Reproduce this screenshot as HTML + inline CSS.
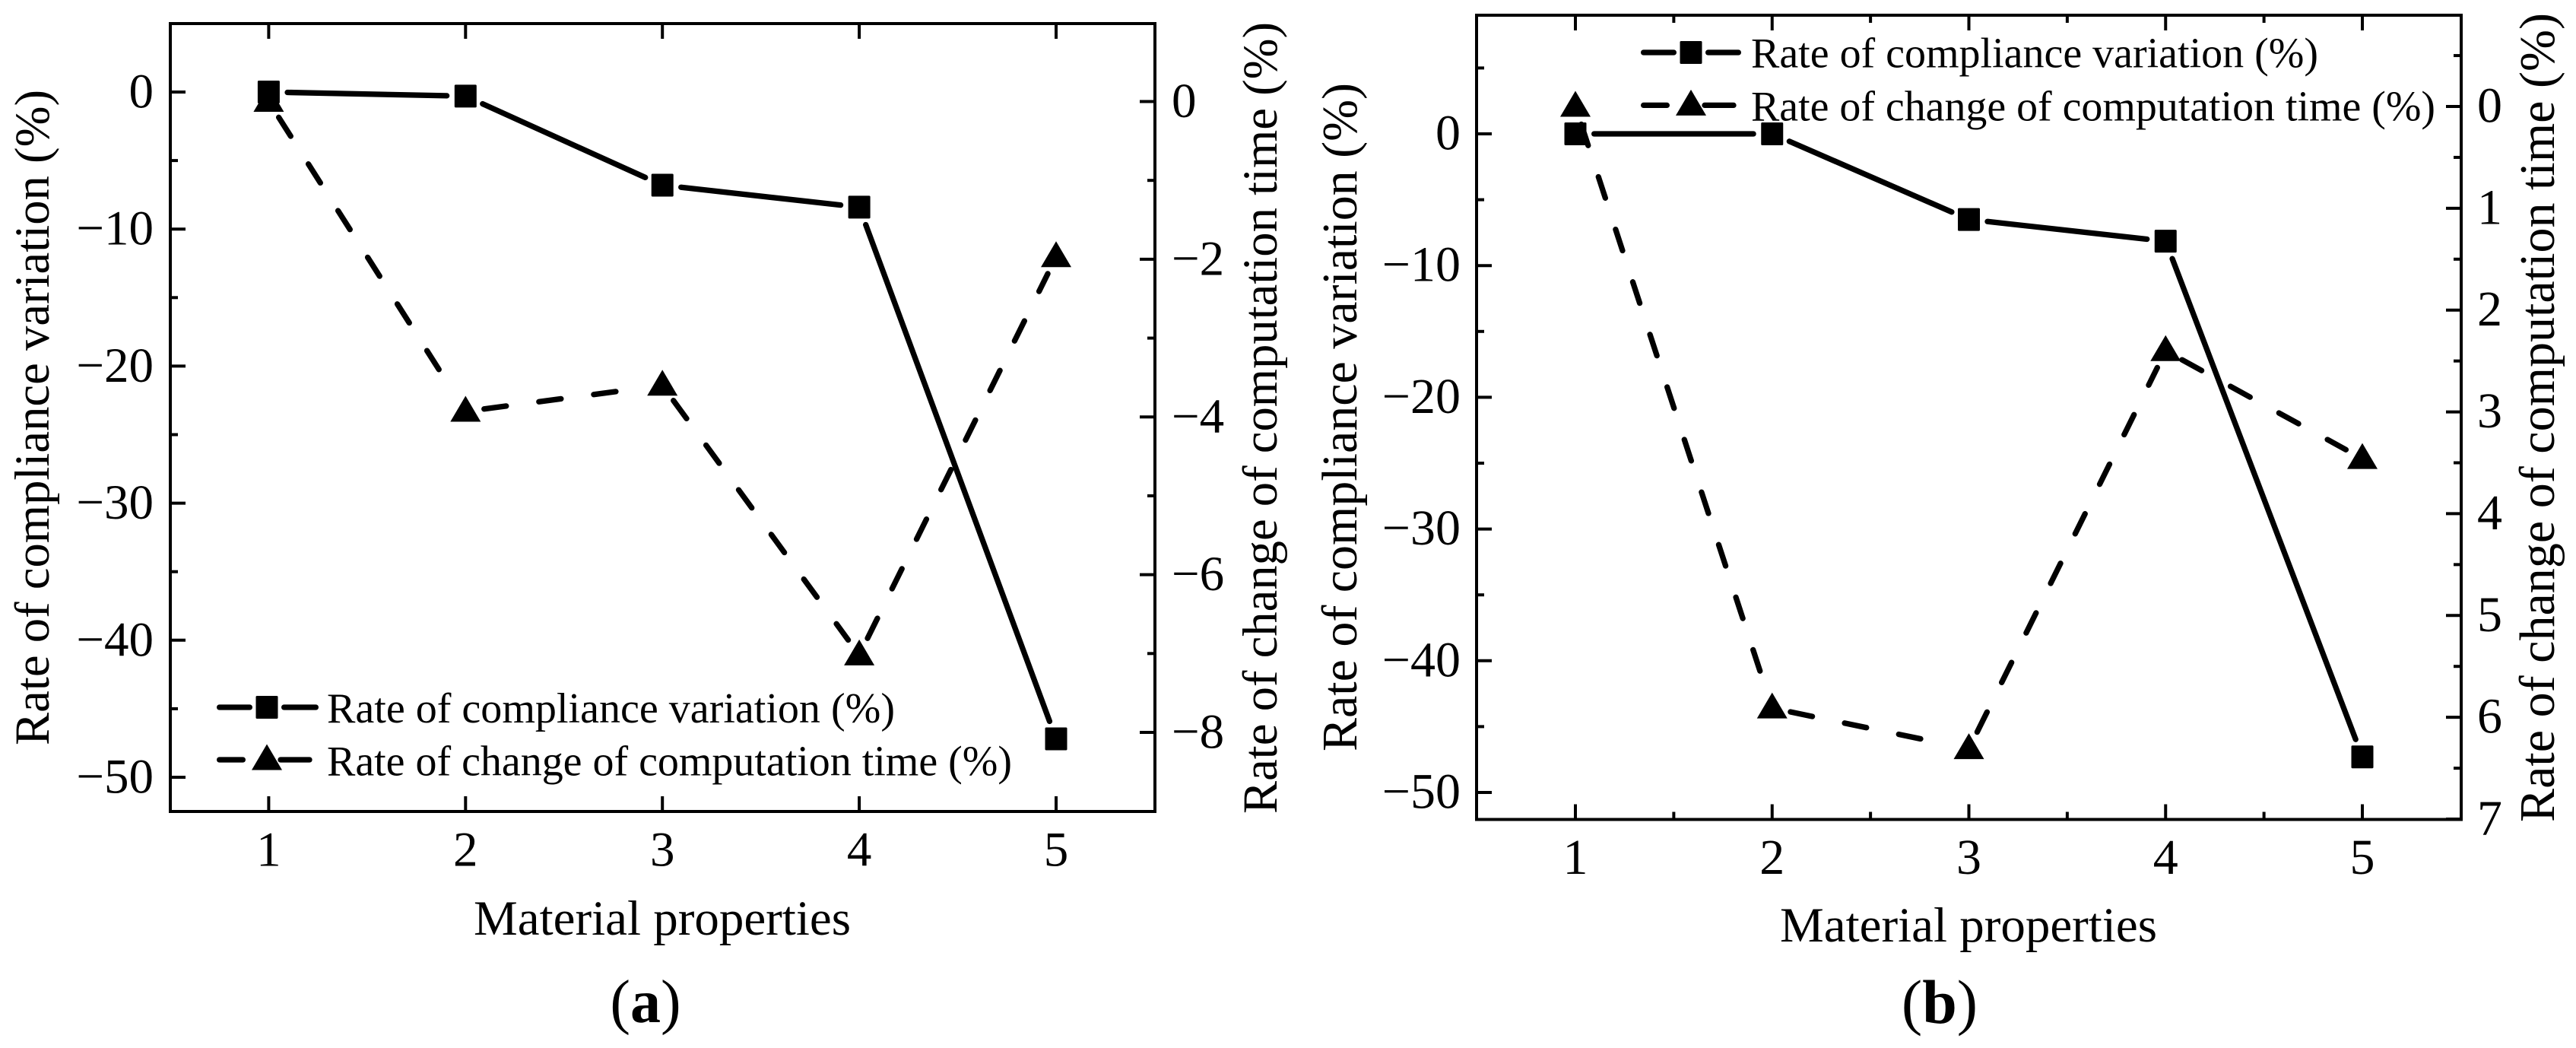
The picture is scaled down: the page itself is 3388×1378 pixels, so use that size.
<!DOCTYPE html>
<html lang="en">
<head>
<meta charset="utf-8">
<title>Rate of compliance variation and computation time</title>
<style>
html,body{margin:0;padding:0;background:#fff;}
svg{display:block;}
text{font-family:"Liberation Serif","Times New Roman",serif;fill:#000;}
</style>
</head>
<body>
<svg id="figure" xmlns="http://www.w3.org/2000/svg" width="3388" height="1378" viewBox="0 0 3388 1378">
  <rect width="3388" height="1378" fill="#fff"/>

  <g id="panel-a">
    <text transform="translate(64,549) rotate(-90)" text-anchor="middle" font-size="65" textLength="862" lengthAdjust="spacingAndGlyphs">Rate of compliance variation (%)</text>
    <text transform="translate(1679,549.5) rotate(-90)" text-anchor="middle" font-size="65" textLength="1041" lengthAdjust="spacingAndGlyphs">Rate of change of computation time (%)</text>
    <text x="871" y="1229" text-anchor="middle" font-size="65" textLength="496" lengthAdjust="spacingAndGlyphs">Material properties</text>
    <text x="849" y="1344" text-anchor="middle" font-size="80">(<tspan font-weight="bold">a</tspan>)</text>
    <text x="430" y="950" font-size="56" textLength="747" lengthAdjust="spacingAndGlyphs">Rate of compliance variation (%)</text>
    <text x="430" y="1019.5" font-size="56" textLength="901" lengthAdjust="spacingAndGlyphs">Rate of change of computation time (%)</text>
  </g>

  <g id="panel-b">
    <text transform="translate(1784,548.5) rotate(-90)" text-anchor="middle" font-size="66" textLength="879" lengthAdjust="spacingAndGlyphs">Rate of compliance variation (%)</text>
    <text transform="translate(3359,549) rotate(-90)" text-anchor="middle" font-size="66" textLength="1064" lengthAdjust="spacingAndGlyphs">Rate of change of computation time (%)</text>
    <text x="2589" y="1238" text-anchor="middle" font-size="65" textLength="496" lengthAdjust="spacingAndGlyphs">Material properties</text>
    <text x="2551" y="1345" text-anchor="middle" font-size="82">(<tspan font-weight="bold">b</tspan>)</text>
    <text x="2303" y="88.5" font-size="56" textLength="746" lengthAdjust="spacingAndGlyphs">Rate of compliance variation (%)</text>
    <text x="2303" y="158.5" font-size="56" textLength="900" lengthAdjust="spacingAndGlyphs">Rate of change of computation time (%)</text>
  </g>
</svg>

<script>
// Chart data
const categories = [1, 2, 3, 4, 5];
const complianceA = [0, -0.3, -6.8, -8.4, -47.2];
const timeA = [0, -3.93, -3.6, -7.02, -1.97];
const complianceB = [0, 0, -6.5, -8.15, -47.3];
const timeB = [0, 5.91, 6.31, 2.4, 3.46];
const leftTicks = [0, -10, -20, -30, -40, -50];
const rightTicksA = [0, -2, -4, -6, -8];
const rightTicksB = [0, 1, 2, 3, 4, 5, 6, 7];
const leftMinorA = [-5, -15, -25, -35, -45];
const leftMinorB = [5, -5, -15, -25, -35, -45];
const rightMinorA = [-1, -3, -5, -7];
const rightMinorB = [-0.5, 0.5, 1.5, 2.5, 3.5, 4.5, 5.5, 6.5];
const xMinorB = [1.5, 2.5, 3.5, 4.5];

const NS = 'http://www.w3.org/2000/svg';
const LINE_WIDTH = 7.3;
const CAP = LINE_WIDTH / 2;

function linearScale(d0, r0, d1, r1) {
  return function (v) { return r0 + (v - d0) * (r1 - r0) / (d1 - d0); };
}
function fmt(v) {
  return String(v).replace('-', '\u2212');
}
function mk(parent, tag, attrs) {
  const el = document.createElementNS(NS, tag);
  for (const k in attrs) el.setAttribute(k, attrs[k]);
  parent.appendChild(el);
  return el;
}

function tickLine(parent, x1, y1, x2, y2, name) {
  const el = mk(parent, 'line', { x1: x1, y1: y1, x2: x2, y2: y2, stroke: '#000', 'stroke-width': 4 });
  
  
}

function tickLabel(parent, x, y, str, anchor, size, name) {
  const el = mk(parent, 'text', { x: x, y: y, 'text-anchor': anchor, 'font-size': size });
  el.textContent = str;
  
  
}

function drawSquare(parent, cx, cy, name) {
  const el = mk(parent, 'rect', { x: cx - 14.5, y: cy - 15, width: 29, height: 30, rx: 1.5, fill: '#000' });
  
  
}

function drawTriangle(parent, cx, cy, name) {
  const pts = [cx, cy - 20.5, cx + 20, cy + 13.5, cx - 20, cy + 13.5];
  const el = mk(parent, 'polygon', { points: pts.join(' '), fill: '#000' });
  
  
}

// Draws each joining segment trimmed back from the markers, as in the source plot
function drawSegments(parent, xs, ys, dashed, name) {
  for (let i = 0; i < xs.length - 1; i++) {
    const dx = xs[i + 1] - xs[i];
    const dy = ys[i + 1] - ys[i];
    const len = Math.hypot(dx, dy);
    const ux = dx / len;
    const uy = dy / len;
    const trim = 21 + CAP;
    if (len <= trim * 2) continue;
    const seg = mk(parent, 'line', {
      x1: xs[i] + ux * trim,
      y1: ys[i] + uy * trim,
      x2: xs[i + 1] - ux * trim,
      y2: ys[i + 1] - uy * trim,
      stroke: '#000',
      'stroke-width': LINE_WIDTH,
      'stroke-linecap': 'round'
    });
    if (dashed) seg.setAttribute('stroke-dasharray', '29.3 43.4');
    
    
  }
}

function drawPanel(cfg) {
  const root = document.getElementById(cfg.id);
  const f = cfg.frame;
  const xScale = linearScale(1, cfg.x1, 5, cfg.x5);
  const yLeft = linearScale(0, cfg.left0, -50, cfg.leftEnd);
  const yRight = linearScale(0, cfg.right0, cfg.rightRef, cfg.rightRefPx);
  const major = 20;
  const minor = 10;

  categories.forEach(function (c) {
    const x = xScale(c);
    tickLine(root, x, f.b, x, f.b - major, 'x-tick-bottom');
    tickLine(root, x, f.t, x, f.t + major, 'x-tick-top');
    tickLabel(root, x, cfg.xLabelY, String(c), 'middle', cfg.fs, 'x-tick-label');
  });
  cfg.xMinor.forEach(function (v) {
    const x = xScale(v);
    tickLine(root, x, f.b, x, f.b - minor, 'x-minor-tick-bottom');
    tickLine(root, x, f.t, x, f.t + minor, 'x-minor-tick-top');
  });

  leftTicks.forEach(function (v) {
    const y = yLeft(v);
    tickLine(root, f.l, y, f.l + major, y, 'left-y-tick');
    tickLabel(root, cfg.leftLabelX, y + 20.5, fmt(v), 'end', cfg.fs, 'left-y-tick-label');
  });
  cfg.leftMinor.forEach(function (v) {
    const y = yLeft(v);
    tickLine(root, f.l, y, f.l + minor, y, 'left-y-minor-tick');
  });

  cfg.rightTicks.forEach(function (v) {
    const y = yRight(v);
    tickLine(root, f.r, y, f.r - major, y, 'right-y-tick');
    tickLabel(root, cfg.rightLabelX, y + 20.5, fmt(v), 'start', cfg.fs, 'right-y-tick-label');
  });
  cfg.rightMinor.forEach(function (v) {
    const y = yRight(v);
    tickLine(root, f.r, y, f.r - minor, y, 'right-y-minor-tick');
  });

  const frame = mk(root, 'rect', {
    x: f.l, y: f.t, width: f.r - f.l, height: f.b - f.t,
    fill: 'none', stroke: '#000', 'stroke-width': 4
  });
  
  

  const xs = categories.map(xScale);
  const ysC = cfg.compliance.map(yLeft);
  const ysT = cfg.time.map(yRight);

  drawSegments(root, xs, ysC, false, 'compliance-line-segment');
  drawSegments(root, xs, ysT, true, 'time-line-segment');
  xs.forEach(function (x, i) {
    drawSquare(root, x, ysC[i], 'compliance-point');
  });
  xs.forEach(function (x, i) {
    drawTriangle(root, x, ysT[i], 'time-point');
  });

  // Legend glyphs
  const lg = cfg.legend;
  const solidLeft = mk(root, 'line', { x1: lg.x0 + CAP, y1: lg.y1, x2: lg.cx - 19 - CAP, y2: lg.y1, stroke: '#000', 'stroke-width': LINE_WIDTH, 'stroke-linecap': 'round' });
  
  
  const solidRight = mk(root, 'line', { x1: lg.cx + 19 + CAP, y1: lg.y1, x2: lg.x1 - CAP, y2: lg.y1, stroke: '#000', 'stroke-width': LINE_WIDTH, 'stroke-linecap': 'round' });
  
  
  drawSquare(root, lg.cx, lg.y1, 'legend-marker-compliance');

  const dashLeft = mk(root, 'line', { x1: lg.x0 + CAP, y1: lg.y2, x2: lg.x0 + 38 - CAP, y2: lg.y2, stroke: '#000', 'stroke-width': LINE_WIDTH, 'stroke-linecap': 'round' });
  
  
  const dashRight = mk(root, 'line', { x1: lg.cx + 18, y1: lg.y2, x2: lg.cx + 56, y2: lg.y2, stroke: '#000', 'stroke-width': LINE_WIDTH, 'stroke-linecap': 'round' });
  
  
  drawTriangle(root, lg.cx, lg.y2, 'legend-marker-time');
}

drawPanel({
  id: 'panel-a',
  frame: { l: 224, t: 31, r: 1519, b: 1067 },
  x1: 353.4, x5: 1389,
  left0: 121, leftEnd: 1022,
  right0: 133.5, rightRef: -8, rightRefPx: 963,
  compliance: complianceA,
  time: timeA,
  rightTicks: rightTicksA,
  leftMinor: leftMinorA,
  rightMinor: rightMinorA,
  xMinor: [],
  xLabelY: 1138.5,
  leftLabelX: 202,
  rightLabelX: 1541,
  fs: 65,
  legend: { x0: 285, x1: 419, cx: 351, y1: 930, y2: 999 }
});

drawPanel({
  id: 'panel-b',
  frame: { l: 1942, t: 20, r: 3237, b: 1077.5 },
  x1: 2072, x5: 3107,
  left0: 176, leftEnd: 1042,
  right0: 140, rightRef: 7, rightRefPx: 1077,
  compliance: complianceB,
  time: timeB,
  rightTicks: rightTicksB,
  leftMinor: leftMinorB,
  rightMinor: rightMinorB,
  xMinor: xMinorB,
  xLabelY: 1149,
  leftLabelX: 1921,
  rightLabelX: 3258,
  fs: 66,
  legend: { x0: 2158, x1: 2290, cx: 2224, y1: 69, y2: 138.4 }
});
</script>
</body>
</html>
